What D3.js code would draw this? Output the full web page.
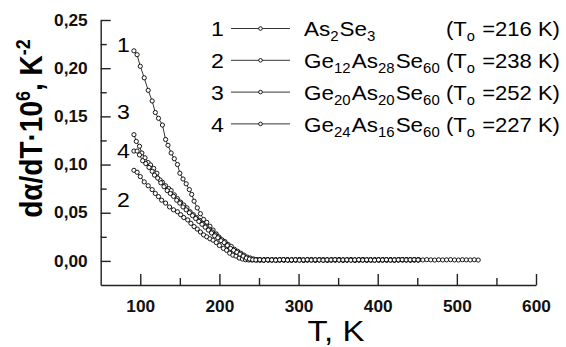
<!DOCTYPE html>
<html>
<head>
<meta charset="utf-8">
<script src="https://cdn.jsdelivr.net/npm/d3@7"></script>
<style>
  body { margin: 0; background: #fff; }
  svg { display: block; font-family: "Liberation Sans", Arial, sans-serif; }
</style>
</head>
<body>
<svg id="chart" width="566" height="347"></svg>
<script>
// --- data: [T (K), dα/dT·10^6 (K^-2)] ---
const series1 = [
  [92,0.218],[96,0.214],[100,0.202],[105,0.190],[110,0.177],[115,0.166],[119,0.154],[123,0.148],
  [128,0.141],[132,0.126],[135,0.120],[139,0.112],[143,0.106],[147,0.100],[150,0.091],[154,0.085],
  [158,0.080],[162,0.074],[165,0.069],[168,0.062],[172,0.055],[176,0.049],[180,0.043],[184,0.040],
  [188,0.036],[192,0.032],[196,0.028],[200,0.024],[204,0.021],[208,0.018],[212,0.015],[216,0.012],
  [220,0.010],[224,0.008],[228,0.006],[232,0.004],[236,0.003],[240,0.002],[244,0.0012],[248,0.001],
  [252,0.0010],[257,0.0012],[262,0.0009],[267,0.0011],[272,0.0008],[277,0.0012],[282,0.0010],[287,0.0009],
  [292,0.0011],[297,0.0010],[302,0.0012],[307,0.0008],[312,0.0010],[317,0.0011],[322,0.0009],[327,0.0012],
  [332,0.0010],[337,0.0008],[342,0.0011],[347,0.0010],[352,0.0012],[357,0.0009],[362,0.0010],[367,0.0011],
  [372,0.0008],[377,0.0010],[382,0.0012],[387,0.0010],[392,0.0009],[397,0.0011],[402,0.0010],[407,0.0012],
  [412,0.0009],[417,0.0010],[422,0.0011],[427,0.0013],[432,0.0010],[437,0.0012],[442,0.0009],[447,0.0011],
  [452,0.0012],[457,0.0010],[462,0.0013],[467,0.0011],[472,0.0009],[477,0.0012],[482,0.0010],[487,0.0011],
  [492,0.0013],[497,0.0010],[502,0.0009],[507,0.0012],[512,0.0011],[517,0.0010],[522,0.0012],[527,0.0009]
];
const series2 = [
  [92,0.094],[96,0.092],[100,0.0875],[105,0.082],[110,0.078],[115,0.074],[119,0.070],[123,0.0667],
  [127,0.063],[132,0.060],[137,0.056],[142,0.053],[147,0.051],[151,0.048],[155,0.045],[160,0.0425],
  [164,0.039],[168,0.0356],[172,0.033],[176,0.030],[180,0.027],[184,0.025],[188,0.023],[192,0.0215],
  [196,0.019],[200,0.016],[205,0.013],[209,0.011],[213,0.008],[217,0.006],[221,0.005],[225,0.003],
  [229,0.002],[233,0.0012],[237,0.001],
  [241,0.0009],[246,0.0011],[251,0.0010],[256,0.0008],[261,0.0011],[266,0.0010],[271,0.0012],[276,0.0009],
  [281,0.0010],[286,0.0011],[291,0.0008],[296,0.0010],[301,0.0012],[306,0.0009],[311,0.0011],[316,0.0010],
  [321,0.0008],[326,0.0011],[331,0.0010],[336,0.0012],[341,0.0009],[346,0.0010],[351,0.0011],[356,0.0008],
  [361,0.0010],[366,0.0012],[371,0.0009],[376,0.0011],[381,0.0010],[386,0.0008],[391,0.0011],[396,0.0010],
  [401,0.0012],[406,0.0009],[411,0.0010],[416,0.0011],[421,0.0008],[426,0.0010],[431,0.0012],[436,0.0009],
  [441,0.0011],[446,0.0010],[451,0.0009]
];
const series3 = [
  [92,0.131],[95,0.124],[99,0.119],[102,0.112],[106,0.107],[110,0.102],[113,0.0996],[117,0.096],
  [121,0.091],[125,0.084],[128,0.0816],[132,0.078],[136,0.075],[139,0.073],[143,0.0685],[147,0.0646],
  [151,0.061],[155,0.058],[159,0.055],[163,0.051],[167,0.048],[171,0.045],[175,0.042],[179,0.039],
  [183,0.036],[187,0.033],[191,0.030],[195,0.027],[199,0.025],[203,0.022],[207,0.020],[211,0.017],
  [215,0.015],[219,0.012],[223,0.010],[227,0.008],[231,0.006],[235,0.004],[239,0.003],[243,0.002],
  [247,0.0012],
  [251,0.0011],[256,0.0009],[261,0.0012],[266,0.0010],[271,0.0008],[276,0.0011],[281,0.0010],[286,0.0012],
  [291,0.0009],[296,0.0010],[301,0.0011],[306,0.0008],[311,0.0010],[316,0.0012],[321,0.0009],[326,0.0011],
  [331,0.0010],[336,0.0008],[341,0.0011],[346,0.0010],[351,0.0012],[356,0.0009],[361,0.0010],[366,0.0011],
  [371,0.0008],[376,0.0010],[381,0.0012],[386,0.0009],[391,0.0011],[396,0.0010],[401,0.0008],[406,0.0011],
  [411,0.0010],[416,0.0012],[421,0.0009],[426,0.0010],[431,0.0011],[436,0.0013],[441,0.0010],[446,0.0011],
  [451,0.0012]
];
const series4 = [
  [92,0.114],[96,0.114],[99,0.110],[103,0.104],[107,0.101],[111,0.097],[115,0.093],[118,0.089],
  [122,0.086],[126,0.081],[130,0.077],[134,0.073],[138,0.070],[142,0.067],[146,0.063],[150,0.060],
  [154,0.056],[158,0.053],[162,0.050],[166,0.047],[170,0.044],[174,0.041],[178,0.038],[182,0.035],
  [186,0.032],[190,0.029],[194,0.026],[198,0.024],[202,0.021],[206,0.019],[210,0.016],[214,0.013],
  [218,0.011],[222,0.009],[226,0.007],[230,0.005],[234,0.003],[238,0.002],[242,0.0012],
  [246,0.0010],[251,0.0012],[256,0.0009],[261,0.0011],[266,0.0010],[271,0.0008],[276,0.0011],[281,0.0012],
  [286,0.0009],[291,0.0010],[296,0.0011],[301,0.0008],[306,0.0010],[311,0.0012],[316,0.0009],[321,0.0011],
  [326,0.0010],[331,0.0008],[336,0.0011],[341,0.0010],[346,0.0012],[351,0.0009],[356,0.0010],[361,0.0011],
  [366,0.0008],[371,0.0010],[376,0.0012],[381,0.0009],[386,0.0011],[391,0.0010],[396,0.0008],[401,0.0011],
  [406,0.0010],[411,0.0012],[416,0.0009],[421,0.0010],[426,0.0011],[431,0.0012],[436,0.0010],[441,0.0011],
  [446,0.0012],[451,0.0010]
];

const seriesNumbers = ['1', '2', '3', '4'];
const compositions = ['As_{2}Se_{3}', 'Ge_{12}As_{28}Se_{60}', 'Ge_{20}As_{20}Se_{60}', 'Ge_{24}As_{16}Se_{60}'];
const onsetTemps = [216, 238, 252, 227];

const xMajorTicks = [100, 200, 300, 400, 500, 600];
const xMinorTicks = [150, 250, 350, 450, 550];
const yMajorTicks = [0, 0.05, 0.10, 0.15, 0.20, 0.25];
const yMinorTicks = [0.025, 0.075, 0.125, 0.175, 0.225];

const allSeries = [series1, series2, series3, series4];

// --- layout ---
const svg = d3.select('#chart');
const plotLeft = 100.7, plotRight = 536, plotTop = 20, plotBottom = 285;
const SX = 1.1; // text in the original is a bit wider than Arial

const x = d3.scaleLinear().domain([50, 600]).range([plotLeft, plotRight]);
const y = d3.scaleLinear().domain([-0.025, 0.25]).range([plotBottom, plotTop]);

const fmtY = d => d3.format('.2f')(d).replace('.', ',');

// widen a text horizontally around its own anchor point
function stretch(sel, sx) {
  sel.each(function () {
    const t = d3.select(this);
    const tx = +t.attr('x') || 0, ty = +t.attr('y') || 0;
    const base = t.attr('transform') || '';
    t.attr('transform', base + ' translate(' + tx + ',' + ty + ') scale(' + sx + ',1) translate(' + (-tx) + ',' + (-ty) + ')');
  });
}

// axes
const gx = svg.append('g').attr('transform', 'translate(0,' + plotBottom + ')');
gx.call(d3.axisBottom(x).tickValues(xMajorTicks).tickSizeInner(-11).tickSizeOuter(0).tickPadding(15.5));
gx.append('g').call(d3.axisBottom(x).tickValues(xMinorTicks).tickSizeInner(-7).tickSizeOuter(0).tickFormat(''))
  .select('.domain').remove();

const gy = svg.append('g').attr('transform', 'translate(' + plotLeft + ',0)');
gy.call(d3.axisLeft(y).tickValues(yMajorTicks).tickSizeInner(-10).tickSizeOuter(0).tickPadding(13).tickFormat(fmtY));
gy.append('g').call(d3.axisLeft(y).tickValues(yMinorTicks).tickSizeInner(-6).tickSizeOuter(0).tickFormat(''))
  .select('.domain').remove();

svg.selectAll('.domain, .tick line').attr('stroke', '#222').attr('stroke-width', 1.4);
svg.selectAll('.tick text')
  .attr('fill', '#111')
  .style('font-size', '16px')
  .style('font-weight', 'bold')
  .style('font-family', '"Liberation Sans", Arial, sans-serif')
  .call(stretch, 1.08);

// axis titles
svg.append('text')
  .attr('x', 336).attr('y', 341)
  .attr('text-anchor', 'middle')
  .style('font-size', '30px')
  .text('T, K')
  .call(stretch, SX);

const yTitle = svg.append('text')
  .attr('transform', 'translate(42,128.5) scale(1.12,1) rotate(-90)')
  .attr('text-anchor', 'middle')
  .style('font-size', '28px')
  .style('font-weight', 'bold');
yTitle.append('tspan').text('d\u03b1/dT\u00b710');
yTitle.append('tspan').attr('dy', -11).style('font-size', '18px').text('6');
yTitle.append('tspan').attr('dy', 11).text(', K');
yTitle.append('tspan').attr('dy', -11).style('font-size', '18px').text('-2');

// curves
const line = d3.line().x(d => x(d[0])).y(d => y(d[1]));
const plot = svg.append('g');

allSeries.forEach(s => {
  plot.append('path')
    .datum(s)
    .attr('d', line)
    .attr('fill', 'none')
    .attr('stroke', '#000')
    .attr('stroke-width', 0.8);
});
allSeries.forEach(s => {
  plot.append('g').selectAll('circle')
    .data(s)
    .enter().append('circle')
    .attr('cx', d => x(d[0]))
    .attr('cy', d => y(d[1]))
    .attr('r', 2.1)
    .attr('fill', '#fff')
    .attr('stroke', '#000')
    .attr('stroke-width', 0.9);
});

// curve numbers next to the first points
const labelBaselines = [51.7, 206.7, 119, 158];
seriesNumbers.forEach((n, i) => {
  svg.append('text')
    .attr('x', 117).attr('y', labelBaselines[i])
    .style('font-size', '21px')
    .text(n)
    .call(stretch, SX);
});

// legend
function addFormula(sel, str, subSize, shift) {
  const re = /([^_]+)|_\{([^}]*)\}/g;
  let m, lowered = false;
  while ((m = re.exec(str)) !== null) {
    if (m[1] !== undefined) {
      sel.append('tspan').attr('dy', lowered ? -shift : 0).attr('dx', lowered ? 1 : 0).text(m[1]);
      lowered = false;
    } else {
      sel.append('tspan').attr('dy', lowered ? 0 : shift).style('font-size', subSize + 'px').text(m[2]);
      lowered = true;
    }
  }
}

const legend = svg.append('g').style('font-size', '21px');
seriesNumbers.forEach((n, i) => {
  const by = 36.5 + i * 31.8;
  legend.append('text').attr('x', 211).attr('y', by).text(n).call(stretch, SX);
  legend.append('line')
    .attr('x1', 231).attr('x2', 290)
    .attr('y1', by - 8).attr('y2', by - 8)
    .attr('stroke', '#000').attr('stroke-width', 0.8);
  legend.append('circle')
    .attr('cx', 260.5).attr('cy', by - 8).attr('r', 1.8)
    .attr('fill', '#fff').attr('stroke', '#000').attr('stroke-width', 0.9);
  const t = legend.append('text').attr('x', 304).attr('y', by);
  addFormula(t, compositions[i], 14, 5);
  t.call(stretch, 1.07);
  const t2 = legend.append('text').attr('x', 446).attr('y', by);
  addFormula(t2, '(T_{o} =' + onsetTemps[i] + ' K)', 14, 5);
  t2.call(stretch, 1.05);
});
</script>
</body>
</html>
